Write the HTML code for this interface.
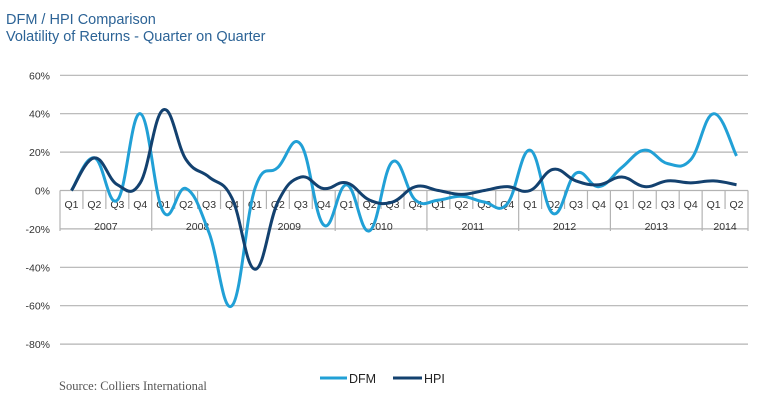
<!DOCTYPE html>
<html><head><meta charset="utf-8"><style>
body{margin:0;background:#fff;width:763px;height:401px;overflow:hidden}
svg{display:block}
</style></head><body>
<svg id="s" width="763" height="401" xmlns="http://www.w3.org/2000/svg" font-family="Liberation Sans, sans-serif">
<text x="6" y="24" font-size="14.5" fill="#2c6396">DFM / HPI Comparison</text>
<text x="6" y="41" font-size="14.5" fill="#2c6396">Volatility of Returns - Quarter on Quarter</text>
<g id="grid" stroke="#b3b3b3" stroke-width="1.2"></g>
<g id="yl" font-size="10.5" fill="#333" text-anchor="end"></g>
<g id="cat" font-size="10.5" fill="#333" text-anchor="middle"></g>
<path id="dfm" fill="none" stroke="#21a0d6" stroke-width="3"/>
<path id="hpi" fill="none" stroke="#13416f" stroke-width="3"/>
<line x1="320" y1="378" x2="347" y2="378" stroke="#21a0d6" stroke-width="3"/>
<text x="349" y="383" font-size="12.5" fill="#222">DFM</text>
<line x1="393" y1="378" x2="422" y2="378" stroke="#13416f" stroke-width="3"/>
<text x="424" y="383" font-size="12.5" fill="#222">HPI</text>
<text x="59" y="390" font-size="12.5" fill="#555" font-family="Liberation Serif, serif">Source: Colliers International</text>
</svg>
<script>
var ns="http://www.w3.org/2000/svg";
function el(p,t,a,txt){var e=document.createElementNS(ns,t);for(var k in a)e.setAttribute(k,a[k]);if(txt!=null)e.textContent=txt;document.getElementById(p).appendChild(e);}
var z=190.5,k=1.92,x0=60,x1=748,w=(x1-x0)/30;
for(var v=60;v>=-80;v-=20){var y=z-v*k;el("grid","line",{x1:x0,x2:x1,y1:y,y2:y});el("yl","text",{x:50,y:y+4},v+"%");}
for(var i=0;i<=30;i++){var x=x0+i*w;var yr=(i%4==0)||i==30;el("grid","line",{x1:x,x2:x,y1:z,y2:yr?231:209});}
var yrs=["2007","2008","2009","2010","2011","2012","2013","2014"];
for(var i=0;i<30;i++){el("cat","text",{x:x0+w*(i+.5),y:208},"Q"+(i%4+1));}
for(var j=0;j<8;j++){var a=j*4,b=Math.min(a+4,30);el("cat","text",{x:x0+w*(a+b)/2,y:230},yrs[j]);}
var D=[0,17,-5,40,-11,1,-22,-60,1,12,24,-18,3,-21,15,-5,-5,-3,-6,-7,21,-12,9,2,12,21,14,16,40,18];
var H=[0,17,3,4,42,16,7,-4,-41,-6,7,1,4,-5,-6,2,0,-2,0,2,0,11,5,3,7,2,5,4,5,3];
function path(d){var p=d.map(function(v,i){return [x0+w*(i+.5),z-v*k]});var s="M"+p[0][0]+","+p[0][1];
for(var i=0;i<p.length-1;i++){var a=p[Math.max(i-1,0)],b=p[i],c=p[i+1],e=p[Math.min(i+2,p.length-1)];var t=0.2;
s+=" C"+(b[0]+(c[0]-a[0])*t)+","+(b[1]+(c[1]-a[1])*t)+" "+(c[0]-(e[0]-b[0])*t)+","+(c[1]-(e[1]-b[1])*t)+" "+c[0]+","+c[1];}return s;}
document.getElementById("dfm").setAttribute("d",path(D));
document.getElementById("hpi").setAttribute("d",path(H));
</script>
</body></html>
